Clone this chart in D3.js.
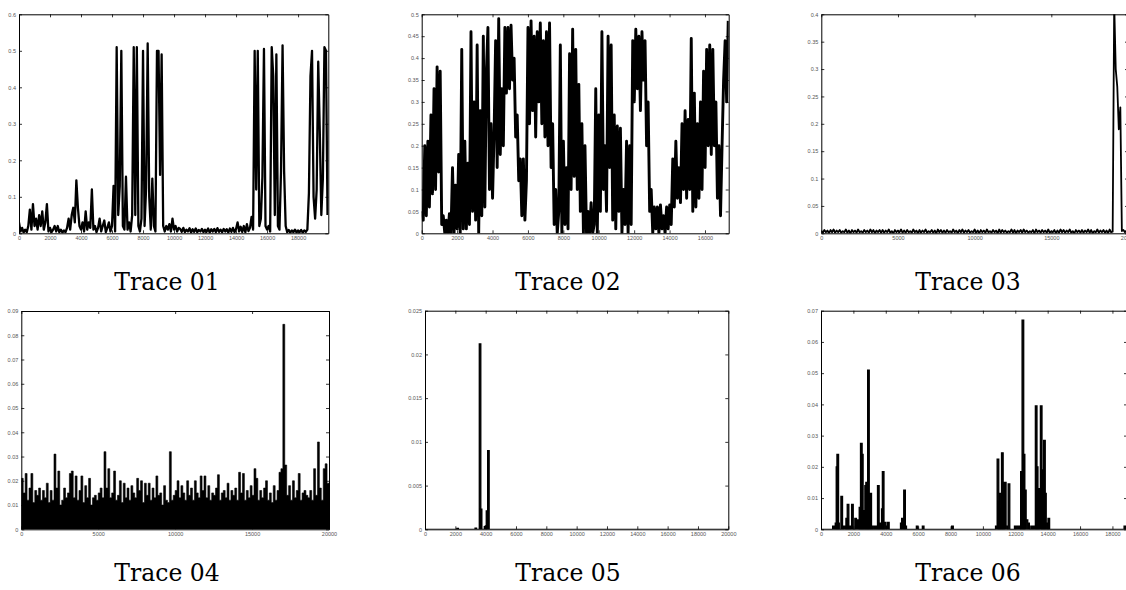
<!DOCTYPE html>
<html><head><meta charset="utf-8">
<script src="https://cdn.jsdelivr.net/npm/d3@7"></script>
<style>body{margin:0;background:#fff}svg{display:block}</style>
</head><body>
<svg id="c" width="1126" height="590"></svg>
<script>
// ---------------- data ----------------
const titles = ["Trace 01","Trace 02","Trace 03","Trace 04","Trace 05","Trace 06"];

const trace01Step = 100, trace01XMax = 19950;
const trace01 = [
0.03,0.005,0.015,0.002,0.01,0.003,0.02,0.065,0.01,0.08,
0.02,0.04,0.01,0.05,0.02,0.06,0.01,0.03,0.08,0.005,
0.015,0.003,0.01,0.02,0.005,0.02,0.003,0.01,0.002,0.008,
0.003,0.015,0.04,0.01,0.05,0.07,0.03,0.145,0.07,0.02,
0.01,0.03,0.005,0.06,0.01,0.03,0.015,0.12,0.01,0.02,
0.003,0.015,0.04,0.005,0.02,0.035,0.003,0.015,0.03,0.005,
0.02,0.13,0.005,0.51,0.05,0.13,0.5,0.02,0.01,0.155,
0.01,0.03,0.005,0.05,0.51,0.05,0.51,0.02,0.005,0.04,
0.5,0.02,0.125,0.52,0.1,0.01,0.15,0.02,0.005,0.5,
0.5,0.16,0.49,0.02,0.005,0.02,0.01,0.025,0.005,0.04,
0.01,0.02,0.005,0.015,0.012,0.004,0.015,0.003,0.01,0.005,
0.014,0.002,0.011,0.004,0.013,0.003,0.009,0.005,0.012,0.003,
0.01,0.004,0.013,0.002,0.011,0.005,0.012,0.003,0.014,0.004,
0.01,0.003,0.012,0.005,0.011,0.002,0.013,0.004,0.015,0.003,
0.012,0.03,0.005,0.018,0.004,0.02,0.003,0.025,0.006,0.015,
0.045,0.01,0.5,0.12,0.5,0.02,0.04,0.155,0.505,0.02,
0.01,0.02,0.005,0.51,0.43,0.05,0.49,0.02,0.01,0.17,
0.515,0.17,0.02,0.003,0.009,0.002,0.008,0.003,0.01,0.002,
0.008,0.003,0.009,0.002,0.008,0.004,0.01,0.11,0.43,0.5,
0.1,0.04,0.12,0.47,0.28,0.05,0.15,0.51,0.5,0.05];

const trace02Step = 87, trace02XMax = 17340;
const trace02 = [
0.05,0.03,0.2,0.04,0.21,0.06,0.27,0.09,0.33,0.1,
0.38,0.14,0.37,0.02,0.04,0.0,0.03,0.0,0.045,0.0,
0.15,0.0,0.11,0.01,0.18,0.0,0.42,0.01,0.21,0.01,
0.16,0.02,0.46,0.05,0.3,0.03,0.43,0.0,0.28,0.04,
0.45,0.06,0.37,0.47,0.1,0.25,0.08,0.23,0.44,0.15,
0.49,0.18,0.33,0.2,0.47,0.32,0.47,0.33,0.475,0.35,
0.4,0.22,0.27,0.12,0.17,0.04,0.17,0.03,0.12,0.47,
0.25,0.485,0.28,0.45,0.22,0.46,0.3,0.48,0.25,0.44,
0.22,0.46,0.2,0.48,0.15,0.25,0.02,0.1,0.0,0.05,
0.43,0.0,0.21,0.02,0.15,0.01,0.41,0.1,0.466,0.13,
0.42,0.1,0.34,0.05,0.25,0.0,0.2,0.0,0.05,0.0,
0.07,0.0,0.02,0.33,0.0,0.27,0.05,0.46,0.1,0.2,
0.05,0.45,0.15,0.43,0.03,0.27,0.01,0.245,0.05,0.24,
0.0,0.1,0.02,0.21,0.0,0.2,0.02,0.44,0.3,0.466,
0.33,0.45,0.28,0.46,0.35,0.44,0.2,0.3,0.05,0.1,
0.0,0.06,0.01,0.06,0.0,0.065,0.01,0.04,0.0,0.06,
0.01,0.065,0.02,0.17,0.06,0.21,0.08,0.15,0.07,0.25,
0.1,0.28,0.08,0.26,0.1,0.445,0.05,0.32,0.06,0.25,
0.08,0.3,0.1,0.37,0.15,0.42,0.2,0.43,0.18,0.42,
0.2,0.3,0.08,0.2,0.04,0.2,0.35,0.44,0.3,0.485];

const trace03Step = 100, trace03XMax = 20000;
const trace03 = [
0.004,0.001,0.006,0.002,0.005,0.000,0.006,0.002,0.007,0.001,
0.005,0.002,0.006,0.001,0.004,0.002,0.007,0.001,0.005,0.000,
0.006,0.002,0.005,0.001,0.007,0.002,0.004,0.001,0.006,0.002,
0.005,0.001,0.007,0.002,0.006,0.000,0.005,0.002,0.006,0.001,
0.006,0.001,0.005,0.002,0.007,0.001,0.004,0.000,0.006,0.002,
0.005,0.002,0.007,0.001,0.005,0.001,0.006,0.002,0.004,0.001,
0.007,0.002,0.005,0.000,0.006,0.001,0.005,0.002,0.007,0.001,
0.004,0.002,0.006,0.001,0.005,0.000,0.007,0.002,0.006,0.001,
0.005,0.001,0.006,0.002,0.004,0.001,0.007,0.002,0.005,0.000,
0.006,0.002,0.007,0.001,0.005,0.002,0.006,0.001,0.004,0.002,
0.007,0.001,0.005,0.000,0.006,0.002,0.005,0.001,0.007,0.002,
0.004,0.001,0.006,0.002,0.005,0.000,0.007,0.001,0.006,0.002,
0.005,0.001,0.004,0.002,0.007,0.001,0.006,0.000,0.005,0.002,
0.006,0.001,0.007,0.002,0.005,0.001,0.004,0.002,0.006,0.000,
0.007,0.002,0.005,0.001,0.006,0.002,0.005,0.001,0.007,0.001,
0.004,0.002,0.006,0.000,0.005,0.001,0.007,0.002,0.006,0.001,
0.005,0.002,0.007,0.001,0.004,0.000,0.006,0.002,0.005,0.001,
0.006,0.001,0.005,0.002,0.007,0.001,0.006,0.000,0.004,0.002,
0.007,0.001,0.005,0.002,0.006,0.001,0.005,0.000,0.007,0.002,
0.003,0.42,0.3,0.268,0.19,0.23,0.004,0.006,0.002,0.005];

const trace04Step = 125, trace04XMax = 20000;
const trace04 = [
0.021,0.015,0.023,0.012,0.017,0.023,0.011,0.016,0.014,0.017,
0.012,0.016,0.013,0.019,0.011,0.016,0.012,0.031,0.017,0.024,
0.010,0.012,0.017,0.013,0.015,0.023,0.024,0.013,0.022,0.012,
0.016,0.022,0.011,0.018,0.013,0.021,0.010,0.013,0.014,0.012,
0.015,0.017,0.013,0.032,0.017,0.025,0.013,0.015,0.024,0.012,
0.014,0.020,0.011,0.019,0.013,0.017,0.012,0.018,0.015,0.013,
0.021,0.016,0.020,0.011,0.019,0.014,0.019,0.012,0.017,0.013,
0.022,0.014,0.015,0.010,0.018,0.012,0.011,0.032,0.012,0.014,
0.016,0.020,0.013,0.018,0.015,0.012,0.020,0.014,0.017,0.012,
0.020,0.015,0.013,0.022,0.016,0.022,0.013,0.018,0.012,0.015,
0.014,0.017,0.0225,0.012,0.015,0.016,0.013,0.019,0.012,0.016,
0.014,0.017,0.012,0.0235,0.015,0.023,0.012,0.016,0.013,0.018,
0.014,0.025,0.021,0.012,0.016,0.013,0.017,0.020,0.012,0.015,
0.011,0.018,0.012,0.016,0.0235,0.025,0.0845,0.0265,0.014,0.018,
0.012,0.020,0.013,0.016,0.023,0.012,0.015,0.016,0.014,0.013,
0.016,0.012,0.025,0.014,0.036,0.017,0.012,0.025,0.027,0.019];

const trace05Bin = 100, trace05XMax = 20000;
const trace05X = [2100, 3300, 3580, 3650, 3910, 3980, 4040, 4130];
const trace05Y = [0.0001, 0.00012, 0.0212, 0.0023, 0.0003, 0.0004, 0.0021, 0.009];

const trace06Bin = 100, trace06XMax = 18900;
const trace06X = [720,880,940,985,1030,1230,1380,1480,1540,1620,1700,1790,1890,
2090,2190,2290,2360,2440,2500,2560,2640,2710,2770,2830,2880,2940,3020,3170,3330,
3490,3570,3740,3790,3910,4010,4110,4910,4980,5080,5110,5180,5890,6260,8070,
10780,10880,10940,11000,11060,11150,11210,11330,11430,11560,11950,12050,12150,
12250,12330,12420,12490,12570,12670,12770,12960,13130,13240,13300,13370,13450,
13550,13620,13680,13750,13810,13900,14020,18720];
const trace06Y = [0.001,0.002,0.02,0.024,0.002,0.0105,0.001,0.001,0.0035,0.008,0.001,0.001,0.008,
0.0035,0.003,0.002,0.007,0.0275,0.024,0.006,0.0035,0.014,0.015,0.007,0.051,0.011,0.0115,0.001,0.001,
0.014,0.002,0.0065,0.0185,0.0022,0.001,0.0022,0.002,0.0035,0.002,0.0125,0.001,0.001,0.001,0.001,
0.001,0.0225,0.009,0.0065,0.0115,0.0245,0.007,0.015,0.001,0.0145,0.001,0.001,0.001,
0.001,0.0185,0.067,0.024,0.0125,0.003,0.002,0.001,0.001,0.0395,0.02,0.0115,0.013,
0.0395,0.0125,0.019,0.0285,0.0115,0.002,0.0035,0.001];

const xTicks01 = [0,2000,4000,6000,8000,10000,12000,14000,16000,18000];
const yTicks01 = [0,0.1,0.2,0.3,0.4,0.5,0.6];
const xTicks02 = [0,2000,4000,6000,8000,10000,12000,14000,16000];
const yTicks02 = [0,0.05,0.1,0.15,0.2,0.25,0.3,0.35,0.4,0.45,0.5];
const xTicks03 = [0,5000,10000,15000,20000];
const yTicks03 = [0,0.05,0.1,0.15,0.2,0.25,0.3,0.35,0.4];
const xTicks04 = [0,5000,10000,15000,20000];
const yTicks04 = [0,0.01,0.02,0.03,0.04,0.05,0.06,0.07,0.08,0.09];
const xTicks05 = [0,2000,4000,6000,8000,10000,12000,14000,16000,18000,20000];
const yTicks05 = [0,0.005,0.01,0.015,0.02,0.025];
const xTicks06 = [0,2000,4000,6000,8000,10000,12000,14000,16000,18000];
const yTicks06 = [0,0.01,0.02,0.03,0.04,0.05,0.06,0.07];

// ---------------- layout ----------------
const panels = [
 {kind:"line", vals:trace01, step:trace01Step, xMax:trace01XMax, yMax:0.6, xt:xTicks01, yt:yTicks01, box:[19,328.3,14.3,233.3], tx:167, ty:290, sw:2.3},
 {kind:"line", vals:trace02, step:trace02Step, xMax:trace02XMax, yMax:0.5, xt:xTicks02, yt:yTicks02, box:[421.7,728.7,14.3,233.3], tx:568, ty:290, sw:2.9},
 {kind:"line", vals:trace03, step:trace03Step, xMax:trace03XMax, yMax:0.4, xt:xTicks03, yt:yTicks03, box:[821.3,1128,14.3,233.3], tx:968, ty:290, sw:1.8},
 {kind:"step", vals:trace04, step:trace04Step, xMax:trace04XMax, yMax:0.09, xt:xTicks04, yt:yTicks04, box:[21.3,329,311,529.3], tx:167, ty:581},
 {kind:"bars", bx:trace05X, by:trace05Y, bin:trace05Bin, xMax:trace05XMax, yMax:0.025, xt:xTicks05, yt:yTicks05, box:[425,728.3,310.7,529.3], tx:568, ty:581},
 {kind:"bars", bx:trace06X, by:trace06Y, bin:trace06Bin, xMax:trace06XMax, yMax:0.07, xt:xTicks06, yt:yTicks06, box:[821,1127,310.7,529.3], tx:968, ty:581}
];

const svg = d3.select("#c");
const fmt = d => String(d);

panels.forEach((p, k) => {
  const [L, R, T, B] = p.box;
  const x = d3.scaleLinear().domain([0, p.xMax]).range([L, R]);
  const y = d3.scaleLinear().domain([0, p.yMax]).range([B, T]);
  const g = svg.append("g");
  const cid = "clip" + k;
  g.append("clipPath").attr("id", cid).append("rect")
    .attr("x", L).attr("y", T).attr("width", R - L).attr("height", B - T);
  const plot = g.append("g").attr("clip-path", `url(#${cid})`);

  if (p.kind === "line") {
    const line = d3.line().x((d, i) => x(i * p.step)).y(d => y(d));
    plot.append("path").datum(p.vals).attr("d", line)
      .attr("fill", "none").attr("stroke", "#000").attr("stroke-width", p.sw)
      .attr("stroke-linejoin", "round");
  } else if (p.kind === "step") {
    const pts = p.vals.map((v, i) => [i * p.step, v]);
    pts.push([p.xMax, p.vals[p.vals.length - 1]]);
    const area = d3.area().curve(d3.curveStepAfter)
      .x(d => x(d[0])).y0(y(0)).y1(d => y(d[1]));
    plot.append("path").datum(pts).attr("d", area).attr("fill", "#000")
      .attr("stroke", "#000").attr("stroke-width", 0.6);
  } else {
    const pts = [[0, 0]];
    p.bx.forEach((bx, i) => {
      pts.push([bx, 0], [bx, p.by[i]], [bx + p.bin, p.by[i]], [bx + p.bin, 0]);
    });
    pts.push([p.xMax, 0]);
    plot.selectAll("rect.bar").data(p.bx).join("rect").attr("class", "bar")
      .attr("x", d => x(d))
      .attr("width", d => Math.max(1, x(d + p.bin) - x(d)))
      .attr("y", (d, i) => y(p.by[i]))
      .attr("height", (d, i) => y(0) - y(p.by[i]))
      .attr("fill", "#000");
    plot.append("path").datum(pts)
      .attr("d", d3.line().x(d => x(d[0])).y(d => y(d[1])))
      .attr("fill", "none").attr("stroke", "#000").attr("stroke-width", 1.3);
  }

  // frame + ticks (gnuplot style, inward, mirrored)
  const ax = (gen, tr) => {
    const a = g.append("g").attr("transform", tr).call(gen);
    a.select(".domain").attr("stroke", "#000").attr("stroke-width", 1);
    a.selectAll(".tick line").attr("stroke", "#000").attr("stroke-width", 0.8);
    a.selectAll("text").attr("font-family", "'Liberation Sans', Arial, sans-serif")
      .attr("font-size", 5.5).attr("fill", "#555");
    return a;
  };
  ax(d3.axisBottom(x).tickValues(p.xt).tickFormat(fmt).tickSize(-3).tickSizeOuter(0).tickPadding(2.5), `translate(0,${B})`);
  ax(d3.axisTop(x).tickValues(p.xt).tickFormat("").tickSize(-3).tickSizeOuter(0), `translate(0,${T})`);
  ax(d3.axisLeft(y).tickValues(p.yt).tickFormat(fmt).tickSize(-3).tickSizeOuter(0).tickPadding(3), `translate(${L},0)`);
  ax(d3.axisRight(y).tickValues(p.yt).tickFormat("").tickSize(-3).tickSizeOuter(0), `translate(${R},0)`);

  svg.append("text").attr("x", p.tx).attr("y", p.ty)
    .attr("text-anchor", "middle")
    .attr("font-family", "'DejaVu Serif', serif").attr("font-size", 23.5)
    .attr("fill", "#000").text(titles[k]);
});
</script>
</body></html>
